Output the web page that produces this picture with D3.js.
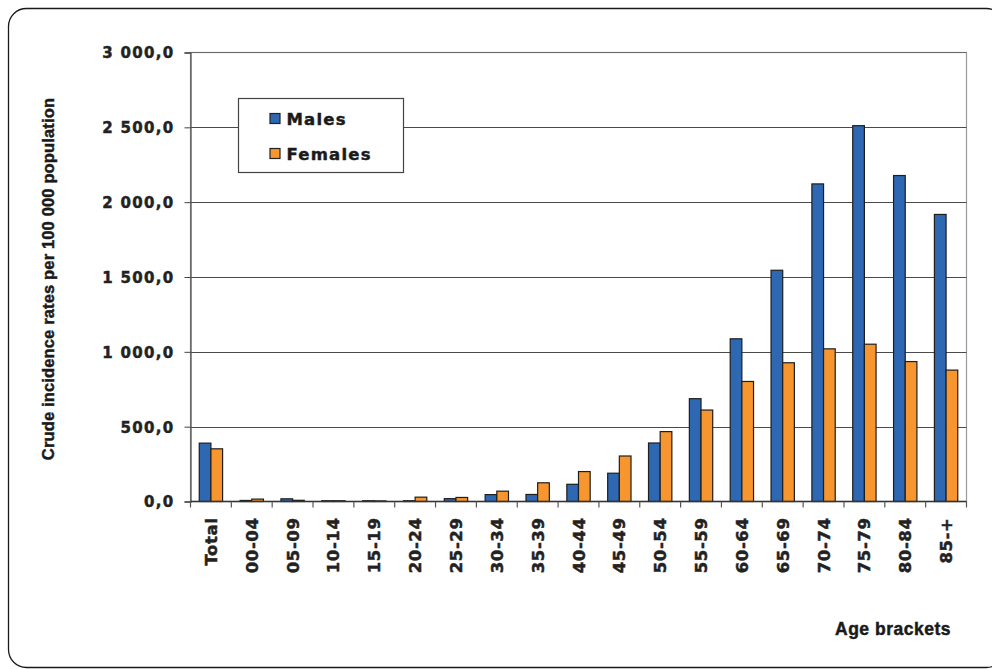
<!DOCTYPE html>
<html>
<head>
<meta charset="utf-8">
<script src="https://cdn.jsdelivr.net/npm/d3@7"></script>
<style>
  html, body { margin: 0; padding: 0; background: #fff; }
  svg { display: block; }
</style>
</head>
<body>
<svg id="chart" width="992" height="669"></svg>
<script>
const categories = ["Total","00-04","05-09","10-14","15-19","20-24","25-29","30-34","35-39","40-44","45-49","50-54","55-59","60-64","65-69","70-74","75-79","80-84","85-+"];
const males   = [390, 7, 18, 5, 5, 5, 19, 46, 47, 115, 189, 391, 687, 1087, 1545, 2122, 2511, 2178, 1918];
const females = [352, 16, 8, 5, 4, 29, 27, 69, 125, 200, 304, 467, 611, 802, 927, 1020, 1051, 935, 878];
const seriesNames = ["Males", "Females"];
const seriesColors = ["#2E67B2", "#F7962F"];
const yTicks = [0, 500, 1000, 1500, 2000, 2500, 3000];
const yTitle = "Crude incidence rates per 100 000 population";
const xTitle = "Age brackets";

const svg = d3.select("#chart");
const plot = { left: 190.5, right: 966.5, top: 52.5, bottom: 501.5 };

// Outer rounded frame
svg.append("rect")
  .attr("x", 8.5).attr("y", 8.5)
  .attr("width", 996).attr("height", 659)
  .attr("rx", 18).attr("ry", 18)
  .attr("fill", "#fff").attr("stroke", "#1a1a1a").attr("stroke-width", 1.3);

const x = d3.scaleBand().domain(categories).range([plot.left, plot.right]).paddingInner(0).paddingOuter(0);
const xs = d3.scaleBand().domain(seriesNames).range([0, x.bandwidth()]).paddingInner(0).paddingOuter(0.75);
const y = d3.scaleLinear().domain([0, 3000]).range([plot.bottom, plot.top]);

const loc = d3.formatLocale({ decimal: ",", thousands: "\u00a0", grouping: [3], currency: ["", ""] });
const fmt = loc.format(",.1f");

// Plot border (top/right light gray)
svg.append("rect")
  .attr("x", plot.left).attr("y", plot.top)
  .attr("width", plot.right - plot.left).attr("height", plot.bottom - plot.top)
  .attr("fill", "none").attr("stroke", "#9a9a9a").attr("stroke-width", 1.2);

// Gridlines
svg.append("g").selectAll("line").data(yTicks.filter(d => d > 0 && d < 3000)).join("line")
  .attr("x1", plot.left).attr("x2", plot.right)
  .attr("y1", d => Math.round(y(d)) + 0.5).attr("y2", d => Math.round(y(d)) + 0.5)
  .attr("stroke", "#4a4a4a").attr("stroke-width", 1);
svg.append("line").attr("x1", plot.left).attr("x2", plot.right)
  .attr("y1", y(3000)).attr("y2", y(3000)).attr("stroke", "#6a6a6a").attr("stroke-width", 1.2);

function heavy(sel, color) {
  return sel.attr("fill", color).attr("stroke", color).attr("stroke-width", 0.45).attr("paint-order", "stroke");
}

// Y axis
const yAxis = svg.append("g").attr("transform", `translate(${plot.left},0)`)
  .call(d3.axisLeft(y).tickValues(yTicks).tickFormat(fmt).tickSize(6).tickPadding(10));
yAxis.select(".domain").attr("stroke", "#555").attr("stroke-width", 1.3);
yAxis.selectAll(".tick line").attr("stroke", "#444");
heavy(yAxis.selectAll(".tick text"), "#222")
  .style("font-family", "'DejaVu Sans', Verdana, sans-serif")
  .style("font-weight", "bold").style("font-size", "15px").style("letter-spacing", "1.3px")
  .attr("dy", "0.36em");

// Bars
const groups = svg.append("g").selectAll("g").data(categories).join("g")
  .attr("transform", d => `translate(${x(d)},0)`);
groups.selectAll("rect")
  .data((d, i) => [{ s: 0, v: males[i] }, { s: 1, v: females[i] }])
  .join("rect")
  .attr("x", d => xs(seriesNames[d.s]))
  .attr("width", xs.bandwidth())
  .attr("y", d => y(d.v))
  .attr("height", d => y(0) - y(d.v))
  .attr("fill", d => seriesColors[d.s])
  .attr("stroke", "#1e1e1e").attr("stroke-width", 1.2);

// X axis
const xAxisG = svg.append("g").attr("transform", `translate(0,${plot.bottom})`);
xAxisG.append("line").attr("x1", plot.left).attr("x2", plot.right)
  .attr("stroke", "#333").attr("stroke-width", 1.3);
const bounds = categories.map(c => x(c)).concat([plot.right]);
xAxisG.selectAll("line.tk").data(bounds).join("line").attr("class", "tk")
  .attr("x1", d => d).attr("x2", d => d).attr("y1", 0).attr("y2", 6)
  .attr("stroke", "#555").attr("stroke-width", 1.2);
heavy(xAxisG.selectAll("text").data(categories).join("text"), "#222")
  .attr("transform", d => `translate(${x(d) + x.bandwidth() / 2 + 6},16) rotate(-90)`)
  .attr("text-anchor", "end")
  .style("font-family", "'DejaVu Sans', Verdana, sans-serif")
  .style("font-weight", "bold").style("font-size", "16.5px").style("letter-spacing", "0.6px")
  .text(d => d);

// Axis titles
heavy(svg.append("text"), "#1a1a1a")
  .attr("transform", `translate(54,${(98 + 460) / 2}) rotate(-90)`)
  .attr("text-anchor", "middle")
  .style("font-family", "'Liberation Sans', Arial, sans-serif")
  .style("font-weight", "bold").style("font-size", "16.5px").style("letter-spacing", "0.15px")
  .text(yTitle);
heavy(svg.append("text"), "#1a1a1a")
  .attr("x", 893).attr("y", 634.5)
  .attr("text-anchor", "middle")
  .style("font-family", "'Liberation Sans', Arial, sans-serif")
  .style("font-weight", "bold").style("font-size", "17.5px").style("letter-spacing", "0.5px")
  .text(xTitle);

// Legend
const lg = svg.append("g").attr("transform", "translate(238.5,98.5)");
lg.append("rect").attr("width", 165).attr("height", 74)
  .attr("fill", "#fff").attr("stroke", "#444").attr("stroke-width", 1.2);
const items = lg.selectAll("g").data(seriesNames).join("g")
  .attr("transform", (d, i) => `translate(0,${i * 35})`);
items.append("rect").attr("x", 31.5).attr("y", 15).attr("width", 10).attr("height", 10)
  .attr("fill", (d, i) => seriesColors[i]).attr("stroke", "#222").attr("stroke-width", 1.2);
heavy(items.append("text"), "#1a1a1a").attr("x", 48).attr("y", 26.5)
  .style("font-family", "'DejaVu Sans', Verdana, sans-serif")
  .style("font-weight", "bold").style("font-size", "16.5px").style("letter-spacing", "1.2px")
  .text(d => d);
</script>
</body>
</html>
